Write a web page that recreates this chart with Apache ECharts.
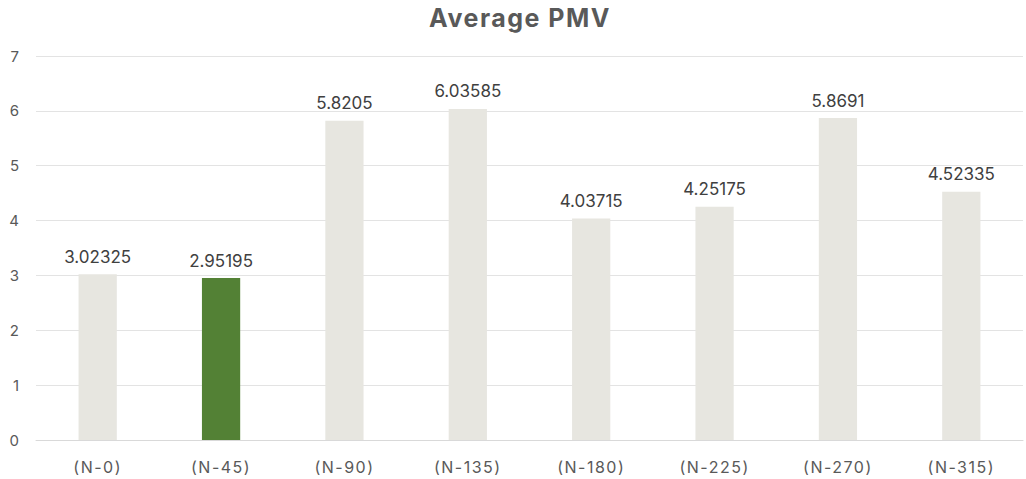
<!DOCTYPE html>
<html>
<head>
<meta charset="utf-8">
<script src="https://cdn.jsdelivr.net/npm/echarts@6/dist/echarts.min.js"></script>
<style>
html,body{margin:0;padding:0;background:#fff;}
#c{width:1026px;height:479px;}
#c text[style*="Arial"]{letter-spacing:1.5px;}
#c text[style*="Helvetica"]{letter-spacing:1.5px;}
</style>
</head>
<body>
<div id="c"></div>
<script>
const categories = ["(N-0)", "(N-45)", "(N-90)", "(N-135)", "(N-180)", "(N-225)", "(N-270)", "(N-315)"];
const values = [3.02325, 2.95195, 5.8205, 6.03585, 4.03715, 4.25175, 5.8691, 4.52335];
const highlightIndex = 1;
const yTicks = [0, 1, 2, 3, 4, 5, 6, 7];

const chart = echarts.init(document.getElementById('c'), null, {renderer: 'svg'});
chart.setOption({
  animation: false,
  title: {
    text: 'Average PMV',
    left: 424,
    top: 0,
    textStyle: {fontFamily: 'Inter, Helvetica', fontWeight: 'bold', fontSize: 25, color: '#595959'}
  },
  grid: {left: 36, right: 3, top: 56, bottom: 39, containLabel: false},
  xAxis: {
    type: 'category',
    data: categories,
    axisLine: {lineStyle: {color: '#d9d9d9'}},
    axisTick: {show: false},
    axisLabel: {color: '#595959', fontSize: 16, fontFamily: 'Inter, Arial', margin: 19}
  },
  yAxis: {
    type: 'value',
    min: yTicks[0],
    max: yTicks[yTicks.length - 1],
    interval: 1,
    axisLine: {show: false},
    axisTick: {show: false},
    splitLine: {lineStyle: {color: '#e3e3e3'}},
    axisLabel: {color: '#595959', fontSize: 15, fontFamily: 'Inter', margin: 17}
  },
  series: [{
    type: 'bar',
    data: values.map((v, i) => ({
      value: v,
      itemStyle: {color: i === highlightIndex ? '#538135' : '#E7E6E0'}
    })),
    barWidth: '31%',
    label: {
      show: true,
      position: 'top',
      distance: 9,
      color: '#404040',
      fontSize: 17,
      fontFamily: 'Inter'
    }
  }]
});
</script>
</body>
</html>
